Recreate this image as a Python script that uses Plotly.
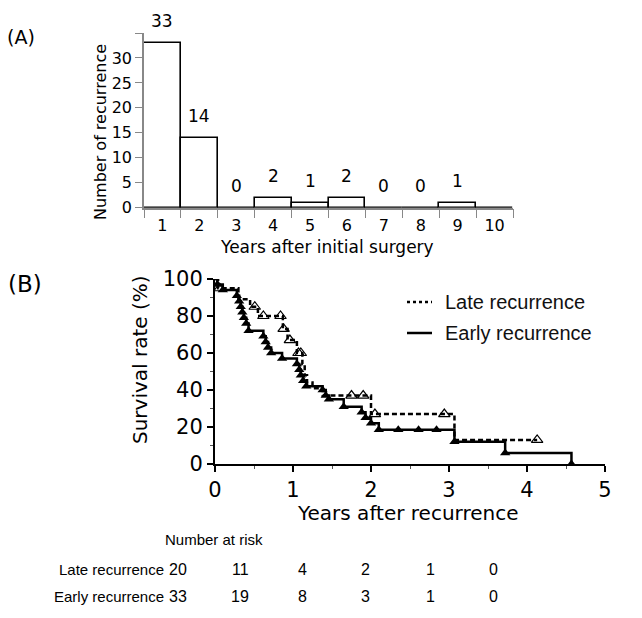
import plotly.graph_objects as go

# ---------------- data ----------------
# Panel A
years_cat = ["1", "2", "3", "4", "5", "6", "7", "8", "9", "10"]
recurrence_counts = [33, 14, 0, 2, 1, 2, 0, 0, 1, 0]
bar_labels = ["33", "14", "0", "2", "1", "2", "0", "0", "1", ""]
a_ytick_vals = [0, 5, 10, 15, 20, 25, 30, 35]
a_ytick_text = ["0", "5", "10", "15", "20", "25", "30", ""]

# Panel B  (Kaplan-Meier step points: time in years, survival in %)
late_t = [0, 0.04, 0.30, 0.45, 0.55, 0.87, 0.93, 1.05, 1.12, 1.15, 1.18, 1.25, 1.38, 2.00, 3.07, 4.13]
late_s = [100, 95, 89, 85, 80, 73, 67, 60, 54, 48, 44, 41, 37, 27, 13, 13]
late_cens_t = [0.06, 0.51, 0.62, 0.84, 0.88, 0.96, 1.07, 1.10, 1.75, 1.90, 2.05, 2.94, 4.13]
late_cens_s = [95, 85, 80, 80, 73, 67, 60, 60, 37, 37, 27, 27, 13]

early_t = [0, 0.03, 0.10, 0.28, 0.31, 0.33, 0.35, 0.37, 0.40, 0.43, 0.62, 0.65, 0.68, 0.72,
           0.86, 1.05, 1.08, 1.10, 1.13, 1.17, 1.38, 1.42, 1.46, 1.65, 1.88, 1.93, 2.00, 2.10,
           3.07, 3.72, 4.57]
early_s = [100, 97, 94, 91, 88, 85, 82, 79, 76, 72, 69, 66, 63, 60,
           57, 54, 51, 48, 45, 42, 40, 37, 35, 31, 28, 25, 22, 18.5,
           12, 6, 0]
early_cens_t = [0.03, 0.10, 0.28, 0.31, 0.33, 0.35, 0.37, 0.40, 0.43, 0.62, 0.65, 0.68, 0.72,
                0.86, 1.05, 1.08, 1.10, 1.13, 1.17, 1.38, 1.42, 1.46, 1.65, 1.88, 1.93, 2.00,
                2.10, 2.35, 2.61, 2.84, 3.07, 3.72, 4.57]
early_cens_s = [97, 94, 91, 88, 85, 82, 79, 76, 72, 69, 66, 63, 60,
                57, 54, 51, 48, 45, 42, 40, 37, 35, 31, 28, 25, 22,
                18.5, 18.5, 18.5, 18.5, 12, 6, 0]

groups = ["Late recurrence", "Early recurrence"]
at_risk_late = [20, 11, 4, 2, 1, 0]
at_risk_early = [33, 19, 8, 3, 1, 0]

# ---------------- helpers ----------------
W, H = 642, 618
OFF = 8  # page body margin of the HTML document


def px(x):
    return (x - OFF) / W


def py(y):
    return 1 - (y - OFF) / H


DJ = "DejaVu Sans"
LIB = "Liberation Sans, Arial"

fig = go.Figure()

# Panel A bars
fig.add_trace(go.Bar(
    x=years_cat, y=recurrence_counts, xaxis="x", yaxis="y",
    marker=dict(color="white", line=dict(color="black", width=1.6)),
    width=1.0, showlegend=False, hoverinfo="skip"))

# Panel B curves
fig.add_trace(go.Scatter(
    x=late_t, y=late_s, xaxis="x2", yaxis="y2", mode="lines",
    line=dict(shape="hv", color="black", width=2.5, dash="5px,3px"),
    showlegend=False, hoverinfo="skip"))
fig.add_trace(go.Scatter(
    x=early_t, y=early_s, xaxis="x2", yaxis="y2", mode="lines",
    line=dict(shape="hv", color="black", width=2.5),
    showlegend=False, hoverinfo="skip"))
fig.add_trace(go.Scatter(
    x=late_cens_t, y=late_cens_s, xaxis="x2", yaxis="y2", mode="markers",
    marker=dict(symbol="triangle-up-open", size=10, color="black", line=dict(width=1.2)),
    showlegend=False, hoverinfo="skip"))
fig.add_trace(go.Scatter(
    x=early_cens_t, y=early_cens_s, xaxis="x2", yaxis="y2", mode="markers",
    marker=dict(symbol="triangle-up", size=9, color="black"),
    showlegend=False, hoverinfo="skip"))


def ann(x, y, text, size, family=DJ, xanchor="center", angle=0, color="black"):
    return dict(x=px(x), y=py(y), xref="paper", yref="paper", text=text, showarrow=False,
                xanchor=xanchor, yanchor="middle", textangle=angle,
                font=dict(family=family, size=size, color=color))


annotations = []
# bar labels (category index positions on the category axis)
for i, (v, lab) in enumerate(zip(recurrence_counts, bar_labels)):
    if lab:
        annotations.append(dict(x=i, y=v, xref="x", yref="y", text=lab, showarrow=False,
                                xanchor="center", yanchor="middle", yshift=22,
                                font=dict(family=DJ, size=17, color="black")))

# panel labels and titles
annotations += [
    ann(21, 37, "(A)", 19),
    ann(25, 284, "(B)", 23),
    ann(100, 132, "Number of recurrence", 16, angle=-90),
    ann(327, 247, "Years after initial surgery", 17),
    ann(140, 360, "Survival rate (%)", 20, angle=-90),
    ann(408, 513, "Years after recurrence", 20),
]

# legend
leg_y = [302, 333]
leg_dash = ["dot", "solid"]
shapes = []
for g, yy, d in zip(groups, leg_y, leg_dash):
    shapes.append(dict(type="line", xref="paper", yref="paper", x0=px(407), x1=px(432),
                       y0=py(yy), y1=py(yy), line=dict(color="black", width=2.5, dash=d)))
    annotations.append(ann(443, yy, g, 20, family=LIB, xanchor="left", color="#111111"))

# number at risk table
annotations.append(ann(214, 539, "Number at risk", 15, family=LIB))
row_y = [569, 596]
col_x = [178, 240, 302, 366, 430, 493]
for g, yy, vals in zip(groups, row_y, [at_risk_late, at_risk_early]):
    annotations.append(ann(166, yy, g, 15, family=LIB, xanchor="right"))
    for cx, v in zip(col_x, vals):
        annotations.append(ann(cx, yy, str(v), 16, family=LIB))

fig.update_layout(
    width=W, height=H,
    margin=dict(l=0, r=0, t=0, b=0, pad=0),
    paper_bgcolor="white", plot_bgcolor="white",
    bargap=0,
    showlegend=False,
    annotations=annotations,
    shapes=shapes,
    xaxis=dict(
        domain=[px(144), px(513)], anchor="y", type="category", automargin=False,
        categoryorder="array", categoryarray=years_cat,
        range=[-0.5, 9.5], tickson="boundaries", ticks="outside", ticklen=9,
        ticklabelstandoff=2,
        tickcolor="#888888", tickwidth=1.2, showline=True, linecolor="#888888", linewidth=1.5,
        showgrid=False, zeroline=False,
        tickfont=dict(family=DJ, size=16, color="black"), fixedrange=True),
    yaxis=dict(
        domain=[py(207.7), py(33)], anchor="x", range=[0, 35], automargin=False,
        tickvals=a_ytick_vals, ticktext=a_ytick_text, ticks="outside", ticklen=7,
        tickcolor="#888888", tickwidth=1.2, showline=True, linecolor="#888888", linewidth=1.5,
        showgrid=False, zeroline=False,
        tickfont=dict(family=DJ, size=16, color="black")),
    xaxis2=dict(
        domain=[px(215), px(605)], anchor="y2", range=[0, 5], automargin=False,
        tickvals=[0, 1, 2, 3, 4, 5], ticks="outside", ticklen=6, tickwidth=1.5, tickcolor="black",
        minor=dict(dtick=0.5, ticks="outside", ticklen=3, tickcolor="#555555", tickwidth=1),
        showline=True, linecolor="black", linewidth=2, showgrid=False, zeroline=False,
        tickfont=dict(family=DJ, size=21, color="black")),
    yaxis2=dict(
        domain=[py(464), py(279)], anchor="x2", range=[0, 100], automargin=False,
        tickvals=[0, 20, 40, 60, 80, 100], ticks="outside", ticklen=6, tickwidth=1.5, tickcolor="black",
        minor=dict(dtick=10, ticks="outside", ticklen=3, tickcolor="#555555", tickwidth=1),
        showline=True, linecolor="black", linewidth=2, showgrid=False, zeroline=False,
        tickfont=dict(family=DJ, size=21, color="black")),
)

fig.write_html("out.html")
